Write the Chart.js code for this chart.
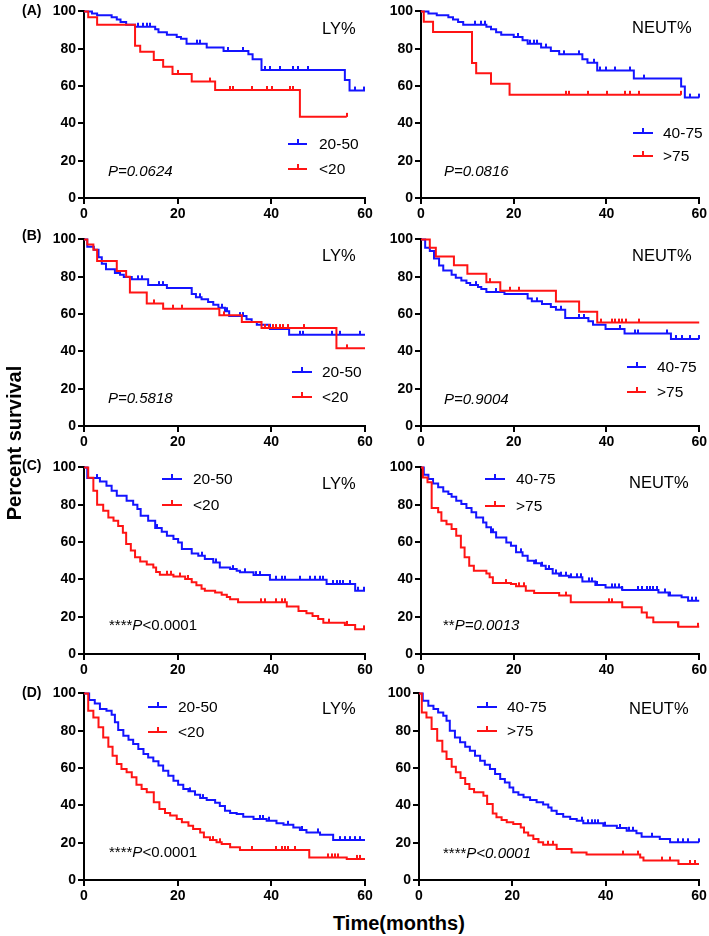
<!DOCTYPE html>
<html>
<head>
<meta charset="utf-8">
<script src="https://cdn.jsdelivr.net/npm/chart.js@4.4.1/dist/chart.umd.min.js"></script>
<style>
  html, body { margin: 0; padding: 0; background: #fff; }
  #fig { position: relative; width: 709px; height: 936px; font-family: "Liberation Sans", Arial, sans-serif; color: #000; overflow: hidden; }
  #fig canvas { position: absolute; }
  .t { position: absolute; white-space: nowrap; line-height: 1; transform: translateY(-50%); }
  .name { font-size: 16.5px; }
  .pv { font-size: 15px; }
  .pv i { font-style: italic; }
  .lg { font-size: 15.5px; }
  .sw { position: absolute; height: 2px; }
  .sw span { position: absolute; top: -4px; width: 2px; height: 4px; }
  .panel { font-size: 14px; font-weight: bold; }
  .axt { font-size: 20px; font-weight: bold; }
</style>
</head>
<body>
<div id="fig"></div>
<script>
/* KM curves: [month, percent survival] after each drop; *_cens = censor months */
const lyA_hi = [[0,100],[1.7,98.9],[2.8,97.9],[5.9,96.8],[7.0,95.7],[7.8,94.3],[9.0,92.9],[10.9,91.8],[15.2,90.4],[15.9,88.8],[17.7,87.5],[19.8,86.3],[20.7,85.4],[21.9,82.7],[26.2,80.6],[29.8,78.8],[35.1,77.0],[36.0,74.3],[37.9,68.6],[55.7,63.3],[56.7,57.6],[60,57.6]];
const lyA_hi_cens = [11.6,12.7,13.4,14.1,24.1,24.8,30.8,34.0,38.6,39.7,41.9,44.7,45.8,47.9,57.9,59.8];
const lyA_lo = [[0,100],[0.9,96.8],[2.8,92.9],[10.9,81.6],[12.0,78.4],[14.9,74.0],[16.9,70.4],[18.9,66.5],[23.0,62.4],[28.0,57.9],[46.1,43.5],[56.1,43.5]];
const lyA_lo_cens = [20.0,26.9,31.2,31.9,35.8,39.0,40.1,44.0,44.7,56.1];

const neutA_mid = [[0,100],[1.6,98.9],[3.4,97.9],[5.9,96.8],[6.9,95.7],[8.0,94.3],[9.1,92.9],[14.1,91.8],[15.1,90.4],[16.2,88.8],[17.3,87.5],[20.0,86.3],[21.9,84.5],[23.0,82.7],[25.9,80.6],[28.0,78.8],[29.8,77.0],[34.8,74.3],[35.9,72.5],[38.0,68.3],[45.9,64.0],[56.1,59.7],[56.9,53.8],[60,53.8]];
const neutA_mid_cens = [11.6,13.0,13.7,20.9,23.4,24.4,25.1,26.9,30.9,34.1,37.3,38.7,39.8,41.9,45.1,48.0,58.0,60];
const neutA_hi = [[0,100],[0.6,94.5],[2.6,89.0],[11.0,72.3],[11.9,66.8],[15.1,61.2],[19.1,55.3],[56.1,55.3]];
const neutA_hi_cens = [31.2,31.9,36.1,40.1,44.1,45.1,47.1,56.1];

const lyB_hi = [[0,100],[0.7,96.0],[2.1,94.5],[3.1,90.4],[3.8,87.0],[4.7,84.0],[6.6,82.0],[7.7,81.0],[8.5,79.8],[10.2,78.6],[13.7,75.5],[17.7,73.9],[23.0,70.7],[23.9,69.0],[25.1,67.9],[26.5,66.4],[27.6,65.0],[28.7,63.4],[30.1,61.5],[31.0,58.9],[34.7,57.2],[35.8,55.7],[36.9,54.3],[39.7,52.0],[43.8,48.9],[60,48.9]];
const lyB_hi_cens = [11.6,12.3,16.0,16.9,24.8,29.4,30.5,33.3,34.0,46.1,46.8,52.9,54.7,58.9];
const lyB_lo = [[0,100],[0.7,97.3],[2.0,94.5],[2.8,88.4],[7.0,83.0],[9.0,80.0],[9.8,71.6],[13.4,65.7],[16.9,62.9],[28.9,59.3],[33.7,55.8],[37.9,52.5],[53.9,41.6],[60,41.6]];
const lyB_lo_cens = [14.9,19.1,21.0,29.9,38.6,39.6,40.3,41.0,41.8,42.5,43.6,47.0,56.1];

const neutB_mid = [[0,100],[0.9,95.5],[1.9,93.8],[2.8,89.8],[3.9,86.0],[4.8,83.4],[6.6,81.0],[7.5,79.5],[8.7,78.0],[9.8,76.6],[10.6,75.5],[12.3,74.5],[13.0,73.4],[14.1,71.8],[18.0,70.7],[23.0,68.3],[23.9,66.8],[26.1,65.4],[28.0,63.8],[29.1,62.3],[31.1,57.9],[36.1,56.2],[37.1,54.2],[39.8,52.0],[43.9,49.6],[53.9,46.6],[60,46.6]];
const neutB_mid_cens = [11.8,16.2,25.1,30.1,34.1,35.1,43.0,46.2,46.9,53.0,55.1,56.2,58.0,60];
const neutB_hi = [[0,100],[1.9,95.5],[3.2,90.8],[7.1,86.2],[10.0,81.6],[14.1,77.1],[17.1,72.5],[29.1,66.7],[34.1,61.2],[38.0,55.4],[60,55.4]];
const neutB_hi_cens = [14.9,19.1,21.2,38.9,41.2,41.9,42.8,43.4,44.3,47.1];

const lyC_hi = [[0,100],[0.7,94.3],[3.4,92.5],[4.8,90.2],[5.9,87.5],[7.0,84.8],[9.1,82.1],[10.5,80.0],[11.4,77.7],[12.1,74.1],[13.7,71.4],[15.2,67.5],[16.6,65.5],[17.7,63.4],[19.1,61.6],[20.1,59.8],[20.9,56.3],[23.0,53.9],[24.4,52.7],[25.8,50.9],[27.6,49.1],[29.0,46.4],[31.2,45.5],[32.6,44.6],[33.3,43.8],[36.2,42.3],[39.7,39.8],[51.8,37.5],[57.9,33.9],[60,33.9]];
const lyC_hi_cens = [2.7,15.5,25.1,28.2,31.9,34.4,36.7,37.6,41.1,42.2,42.9,46.1,48.3,49.3,50.4,51.1,53.2,54.0,54.7,55.4,56.8,58.6,59.8];
const lyC_lo = [[0,100],[0.9,94.5],[2.0,87.5],[2.8,80.0],[4.1,76.8],[5.2,73.2],[6.3,71.4],[7.3,68.6],[8.3,65.0],[9.0,59.0],[10.0,55.4],[10.9,51.8],[12.0,49.6],[13.4,47.9],[14.8,46.4],[15.4,43.9],[16.2,42.5],[19.1,41.5],[21.6,40.2],[23.0,38.4],[24.0,36.8],[25.1,35.0],[25.8,33.9],[28.0,33.0],[29.4,31.8],[30.5,30.5],[31.2,29.3],[32.9,27.7],[43.3,25.4],[45.8,23.0],[47.5,21.8],[48.8,20.3],[50.0,18.8],[51.1,16.8],[55.7,15.6],[57.9,13.2],[60,13.2]];
const lyC_lo_cens = [17.8,18.5,20.5,22.1,37.9,38.6,41.1,42.2,42.9,52.4,56.1,59.8];

const neutC_mid = [[0,100],[0.6,96.1],[1.6,93.8],[2.6,91.4],[3.7,89.3],[4.8,87.1],[5.9,85.7],[6.6,84.3],[7.6,82.1],[8.7,80.4],[9.8,78.2],[10.9,75.9],[11.9,73.2],[13.4,70.5],[14.1,67.9],[15.1,65.2],[16.2,62.5],[18.4,59.8],[19.4,58.0],[20.5,54.5],[21.9,52.7],[23.0,50.0],[24.4,48.6],[25.9,47.3],[26.9,45.5],[28.4,43.2],[29.8,42.0],[31.9,41.1],[34.8,38.9],[37.6,37.0],[39.8,35.7],[43.4,34.3],[51.2,33.0],[53.4,31.3],[56.2,30.4],[57.6,28.6],[60,28.6]];
const neutC_mid_cens = [15.5,21.6,24.8,26.2,27.6,29.1,30.1,31.2,32.3,33.7,34.4,36.2,36.9,38.0,41.2,41.9,42.6,43.4,46.9,47.6,48.7,49.4,50.1,50.9,52.6,53.7,58.4,59.4];
const neutC_hi = [[0,100],[0.4,94.6],[1.4,92.0],[2.3,78.2],[3.7,75.9],[4.4,71.4],[5.5,69.6],[6.6,67.0],[7.6,63.4],[8.6,57.1],[9.4,51.8],[10.4,47.3],[11.4,44.6],[14.1,43.2],[14.8,41.1],[15.5,38.0],[19.4,37.5],[20.5,36.3],[22.6,33.9],[24.4,32.7],[29.8,31.3],[32.3,27.7],[43.4,25.0],[47.6,22.3],[48.7,19.6],[50.1,17.0],[55.5,14.6],[60,14.6]];
const neutC_hi_cens = [18.4,21.2,22.3,31.2,40.5,41.2,55.5,59.8];

const lyD_hi = [[0,100],[1.1,96.4],[2.3,94.6],[3.4,91.6],[4.8,90.7],[5.9,88.6],[6.6,84.5],[7.3,80.4],[8.4,77.3],[9.5,75.2],[10.5,72.9],[11.6,70.2],[12.7,67.5],[13.7,65.7],[14.8,63.6],[15.9,61.3],[16.9,58.6],[18.0,55.9],[19.1,53.2],[20.1,51.1],[21.2,48.8],[22.3,47.5],[23.7,45.7],[24.8,43.9],[26.2,42.9],[28.0,41.4],[29.0,39.6],[30.1,37.1],[31.2,35.9],[32.6,35.4],[34.0,33.9],[36.2,32.7],[39.0,31.8],[41.1,30.4],[42.6,29.6],[44.7,28.2],[46.1,26.8],[47.5,25.5],[50.4,24.3],[53.2,21.4],[60,21.4]];
const lyD_hi_cens = [22.6,25.4,37.6,38.3,39.5,43.6,46.5,50.0,54.7,55.7,56.8,57.9,58.9];
const lyD_lo = [[0,100],[0.9,90.7],[2.0,87.1],[3.1,81.8],[4.1,76.4],[5.2,71.4],[6.1,66.6],[7.0,62.1],[8.0,59.5],[9.1,57.7],[10.2,55.0],[11.2,51.1],[12.3,48.8],[13.4,47.0],[14.9,41.6],[16.1,38.0],[17.3,35.9],[18.4,34.5],[19.8,32.7],[20.9,30.9],[22.3,29.1],[23.3,27.3],[24.8,25.5],[25.6,22.9],[26.9,21.4],[28.3,20.2],[29.4,19.3],[31.2,17.5],[33.3,16.1],[48.1,12.1],[56.1,11.3],[60,11.3]];
const lyD_lo_cens = [27.6,29.0,35.8,41.1,42.2,42.9,43.6,45.1,52.2,52.9,53.6,54.3,58.2,58.9];

const neutD_mid = [[0,100],[0.8,96.1],[2.0,93.4],[3.1,91.6],[4.1,89.8],[5.2,88.0],[5.9,85.4],[6.6,80.0],[7.7,76.4],[8.8,73.8],[9.9,71.4],[10.9,69.3],[12.0,66.6],[13.1,63.9],[14.1,61.8],[15.2,59.5],[16.3,56.8],[17.4,54.1],[18.4,52.3],[19.4,49.6],[20.2,47.0],[21.3,45.7],[22.4,44.3],[23.8,42.9],[25.2,41.6],[26.6,40.4],[27.7,38.9],[28.4,37.1],[29.5,35.4],[30.9,33.9],[32.4,32.7],[33.8,31.8],[35.2,30.4],[39.5,29.1],[42.4,27.9],[44.5,26.4],[46.6,25.0],[47.7,23.2],[51.6,22.0],[53.8,20.2],[60,20.2]];
const neutD_mid_cens = [34.9,36.3,37.0,37.7,38.4,39.9,43.1,44.9,45.9,49.9,55.6,56.6,57.7,59.9];
const neutD_hi = [[0,100],[0.6,89.8],[1.6,87.1],[2.7,80.9],[3.9,74.6],[5.0,68.9],[5.9,64.8],[7.0,60.7],[7.9,57.7],[8.9,54.6],[9.9,51.4],[10.8,48.8],[11.8,47.0],[13.8,45.2],[14.6,40.7],[15.8,35.7],[16.6,33.6],[17.7,32.1],[18.8,30.9],[20.2,30.0],[21.8,28.2],[22.5,25.5],[23.4,23.8],[24.5,22.0],[25.6,20.2],[26.6,18.9],[29.5,16.6],[32.7,14.8],[35.9,13.6],[47.4,12.1],[48.1,10.4],[55.6,8.6],[60,8.6]];
const neutD_hi_cens = [27.7,28.8,43.8,46.9,52.0,53.8,58.1,59.1];

const X_TICKS = [0, 20, 40, 60];
const Y_TICKS = [0, 20, 40, 60, 80, 100];
const LY_GROUPS = ['20-50', '<20'];
const NEUT_GROUPS = ['40-75', '>75'];

/* ---- styling / layout ---- */
const BLUE = '#1414ff';
const RED = '#ff1414';
const AXIS_W = 44, AXIS_H = 28, PAD_T = 10;
const FONT = '"Liberation Sans", Arial, sans-serif';

// plot area in page pixels: [left, top, right, bottom]
const panels = [
  { area: [84, 11, 365, 198], hi: lyA_hi, hiC: lyA_hi_cens, lo: lyA_lo, loC: lyA_lo_cens },
  { area: [421, 11, 701, 198], hi: neutA_mid, hiC: neutA_mid_cens, lo: neutA_hi, loC: neutA_hi_cens },
  { area: [84, 239, 365, 426], hi: lyB_hi, hiC: lyB_hi_cens, lo: lyB_lo, loC: lyB_lo_cens },
  { area: [421, 239, 701, 426], hi: neutB_mid, hiC: neutB_mid_cens, lo: neutB_hi, loC: neutB_hi_cens },
  { area: [84, 467, 365, 654], hi: lyC_hi, hiC: lyC_hi_cens, lo: lyC_lo, loC: lyC_lo_cens },
  { area: [421, 467, 701, 654], hi: neutC_mid, hiC: neutC_mid_cens, lo: neutC_hi, loC: neutC_hi_cens },
  { area: [84, 693, 365, 880], hi: lyD_hi, hiC: lyD_hi_cens, lo: lyD_lo, loC: lyD_lo_cens },
  { area: [419, 693, 699, 880], hi: neutD_mid, hiC: neutD_mid_cens, lo: neutD_hi, loC: neutD_hi_cens },
];

const fig = document.getElementById('fig');

function tickMark(color) {
  const c = document.createElement('canvas');
  c.width = 2; c.height = 10;
  const g = c.getContext('2d');
  g.fillStyle = color;
  g.fillRect(0, 1, 2, 4);
  return c;
}

// survival value at month t, from the step list
function survAt(steps, t) {
  let s = steps[0][1];
  for (const [m, v] of steps) { if (m <= t) s = v; }
  return s;
}

function curveSets(steps, cens, color) {
  return [
    { data: steps.map(([x, y]) => ({ x, y })), borderColor: color, borderWidth: 2, stepped: 'before', pointRadius: 0, fill: false, clip: 6 },
    { data: cens.map((x) => ({ x, y: survAt(steps, x) })), showLine: false, pointStyle: tickMark(color), pointRadius: 5, clip: 8 },
  ];
}

function axisOpts(ticks, min, max, fit) {
  return {
    type: 'linear', min, max,
    afterBuildTicks: (s) => { s.ticks = ticks.map((v) => ({ value: v })); },
    afterFit: fit,
    grid: { drawOnChartArea: false, drawTicks: true, tickLength: 6, color: '#000', lineWidth: 2 },
    border: { display: true, color: '#000', width: 2 },
    ticks: { color: '#000', padding: 2, autoSkip: false, maxRotation: 0, font: { family: FONT, size: 14, weight: 'bold' } },
  };
}

function makePanel(p) {
  const [l, t, r, b] = p.area;
  const padR = l > 200 ? 709 - r : 10;
  const w = (r - l) + AXIS_W + padR;
  const h = PAD_T + (b - t) + AXIS_H;
  const cv = document.createElement('canvas');
  cv.width = w; cv.height = h;
  Object.assign(cv.style, { left: (l - AXIS_W) + 'px', top: (t - PAD_T) + 'px', width: w + 'px', height: h + 'px' });
  fig.appendChild(cv);
  new Chart(cv, {
    type: 'line',
    data: { datasets: [...curveSets(p.lo, p.loC, RED), ...curveSets(p.hi, p.hiC, BLUE)] },
    options: {
      responsive: false, animation: false, devicePixelRatio: 1,
      layout: { padding: { top: PAD_T, right: padR, left: 0, bottom: 0 } },
      plugins: { legend: { display: false }, tooltip: { enabled: false } },
      scales: {
        x: axisOpts(X_TICKS, 0, 60, (s) => { s.height = AXIS_H; }),
        y: axisOpts(Y_TICKS, 0, 100, (s) => { s.width = AXIS_W; }),
      },
    },
  });
}

function text(cls, x, y, html) {
  const d = document.createElement('div');
  d.className = 't ' + cls;
  d.style.left = x + 'px'; d.style.top = y + 'px';
  d.innerHTML = html;
  fig.appendChild(d);
  return d;
}

function esc(s) { return s.replace(/</g, '&lt;').replace(/>/g, '&gt;'); }

function legend(x0, x1, y, color, label, tx) {
  const sw = document.createElement('div');
  sw.className = 'sw';
  Object.assign(sw.style, { left: x0 + 'px', top: (y - 1) + 'px', width: (x1 - x0) + 'px', background: color });
  sw.innerHTML = `<span style="background:${color};left:${(x1 - x0) / 2 - 1}px"></span>`;
  fig.appendChild(sw);
  text('lg', tx, y, esc(label));
}

panels.forEach(makePanel);

// [name, nameX, nameY, groups, swatchX0, swatchX1, rowY1, rowY2, labelX, pX, pY, pHtml]
const notes = [
  ['LY%', 322, 28, LY_GROUPS, 288, 307, 144, 169, 319, 108, 170, '<i>P=0.0624</i>'],
  ['NEUT%', 632, 27, NEUT_GROUPS, 633, 653, 133, 156, 663, 444, 170, '<i>P=0.0816</i>'],
  ['LY%', 322, 255, LY_GROUPS, 292, 312, 372, 397, 322, 108, 397, '<i>P=0.5818</i>'],
  ['NEUT%', 632, 255, NEUT_GROUPS, 627, 646, 367, 392, 657, 444, 398, '<i>P=0.9004</i>'],
  ['LY%', 322, 483, LY_GROUPS, 162, 182, 479, 505, 193, 109, 624, '****<i>P</i>&lt;0.0001'],
  ['NEUT%', 629, 482, NEUT_GROUPS, 485, 505, 479, 506, 516, 443, 624, '**<i>P=0.0013</i>'],
  ['LY%', 322, 708, LY_GROUPS, 148, 167, 707, 732, 178, 109, 851, '****<i>P</i>&lt;0.0001'],
  ['NEUT%', 629, 708, NEUT_GROUPS, 477, 497, 707, 731, 507, 443, 852, '****<i>P&lt;0.0001</i>'],
];

notes.forEach(([name, nx, ny, groups, x0, x1, y1, y2, tx, px, py, ph]) => {
  text('name', nx, ny, name);
  legend(x0, x1, y1, BLUE, groups[0], tx);
  legend(x0, x1, y2, RED, groups[1], tx);
  text('pv', px, py, ph);
});

[['(A)', 10], ['(B)', 235], ['(C)', 465], ['(D)', 692]].forEach(([s, y]) => text('panel', 22, y, s));

const yt = text('axt', 14, 443, 'Percent survival');
yt.style.transform = 'translate(-50%, -50%) rotate(-90deg)';
text('axt', 333, 923, 'Time(months)');
</script>
</body>
</html>
